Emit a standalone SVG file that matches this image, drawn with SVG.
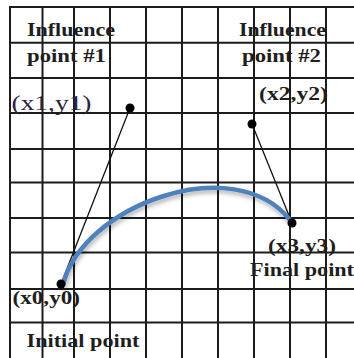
<svg xmlns="http://www.w3.org/2000/svg" width="354" height="358" viewBox="0 0 354 358">
<defs>
<style>
.grid line{stroke:#1c1c1c;stroke-width:2}
.lbl{font-family:"Liberation Serif","Times New Roman",serif;font-weight:bold;font-size:19.5px;fill:#1e1e1e}
.lblr{font-family:"Liberation Serif","Times New Roman",serif;font-size:21px;fill:#2a2340}
.dot{fill:#000}
.cl{stroke:#111;stroke-width:1.3;fill:none}
.crv{stroke:#4f81bd;stroke-width:4.5;fill:none;stroke-linecap:round}
</style>
<filter id="sh" x="-10%" y="-20%" width="120%" height="160%">
<feDropShadow dx="1" dy="3" stdDeviation="2" flood-color="#000" flood-opacity="0.3"/>
</filter>
</defs>
<rect width="354" height="358" fill="#fff"/>
<g class="grid">
<line x1="10" y1="6" x2="10" y2="358"/>
<line x1="42.5" y1="6" x2="42.5" y2="358"/>
<line x1="74" y1="6" x2="74" y2="358"/>
<line x1="110" y1="6" x2="110" y2="358"/>
<line x1="146" y1="6" x2="146" y2="358"/>
<line x1="182" y1="6" x2="182" y2="358"/>
<line x1="218" y1="6" x2="218" y2="358"/>
<line x1="254" y1="6" x2="254" y2="358"/>
<line x1="290" y1="6" x2="290" y2="358"/>
<line x1="326" y1="6" x2="326" y2="358"/>
<line x1="9" y1="7" x2="354" y2="7"/>
<line x1="9" y1="42.7" x2="354" y2="42.7"/>
<line x1="9" y1="78" x2="354" y2="78"/>
<line x1="9" y1="113" x2="354" y2="113"/>
<line x1="9" y1="149" x2="354" y2="149"/>
<line x1="9" y1="182.5" x2="354" y2="182.5"/>
<line x1="9" y1="218" x2="354" y2="218"/>
<line x1="9" y1="252.5" x2="354" y2="252.5"/>
<line x1="9" y1="289" x2="354" y2="289"/>
<line x1="9" y1="322.5" x2="354" y2="322.5"/>
</g>
<g id="connectors">
<line class="cl" x1="61" y1="284" x2="130" y2="108"/>
<line class="cl" x1="252" y1="124" x2="292" y2="223"/>
<path class="crv" filter="url(#sh)" d="M63,285 C82,205 235,150 290,220"/>
</g>
<g id="influence1">
<text class="lbl" x="27" y="35.5" textLength="88" lengthAdjust="spacingAndGlyphs">Influence</text>
<text class="lbl" x="27" y="61.5" textLength="79" lengthAdjust="spacingAndGlyphs">point #1</text>
<text class="lblr" x="11.5" y="110" textLength="80" lengthAdjust="spacingAndGlyphs">(x1,y1)</text>
<circle class="dot" cx="130" cy="108" r="4.5"/>
</g>
<g id="influence2">
<text class="lbl" x="239" y="36" textLength="87" lengthAdjust="spacingAndGlyphs">Influence</text>
<text class="lbl" x="242" y="62" textLength="79" lengthAdjust="spacingAndGlyphs">point #2</text>
<text class="lbl" x="259" y="100" textLength="69" lengthAdjust="spacingAndGlyphs">(x2,y2)</text>
<circle class="dot" cx="252" cy="124" r="4.5"/>
</g>
<g id="initial">
<circle class="dot" cx="61" cy="284" r="4.5"/>
<text class="lbl" x="12.5" y="304" textLength="67.5" lengthAdjust="spacingAndGlyphs">(x0,y0)</text>
<text class="lbl" x="26.5" y="346.5" textLength="113" lengthAdjust="spacingAndGlyphs">Initial point</text>
</g>
<g id="final">
<circle class="dot" cx="292" cy="223" r="4.5"/>
<text class="lbl" x="268" y="252" textLength="68" lengthAdjust="spacingAndGlyphs">(x3,y3)</text>
<text class="lbl" x="250" y="275.5" textLength="104" lengthAdjust="spacingAndGlyphs">Final point</text>
</g>
</svg>
